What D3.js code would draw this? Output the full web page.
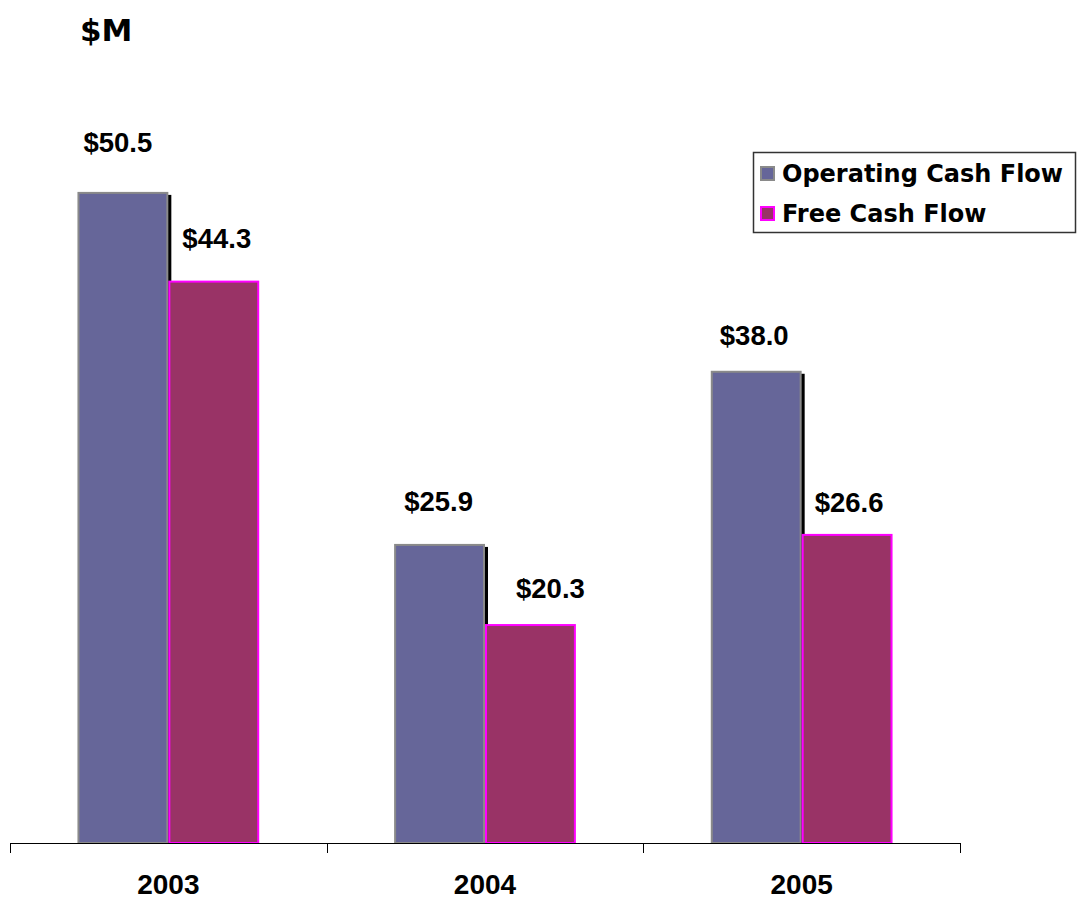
<!DOCTYPE html>
<head>
  <meta charset="utf-8">
  <script src="https://d3js.org/d3.v7.min.js"></script>
  <style>
    body { margin: 0; background: #fff; }
    .label { font-family: "Liberation Sans", Arial, sans-serif; font-weight: bold; font-size: 27.5px; fill: #000; }
    .year { font-family: "Liberation Sans", Arial, sans-serif; font-weight: bold; font-size: 28px; fill: #000; }
    .legend text { font-family: "DejaVu Sans", Verdana, sans-serif; font-weight: bold; font-size: 24px; fill: #000; }
    .unit { font-family: "DejaVu Sans", Verdana, sans-serif; font-weight: bold; font-size: 31px; }
  </style>
</head>
<body>
  <svg width="1077" height="899"></svg>
  <script>
    var years = ["2003", "2004", "2005"];
    var seriesNames = ["Operating Cash Flow", "Free Cash Flow"];
    var operating = [50.5, 25.9, 38.0];
    var free = [44.3, 20.3, 26.6];

    var fills = ["#666699", "#993366"];
    var strokes = ["#8a8a8a", "#ff00ff"];
    // hand-placed value labels in the original: [dx, gap above bar] per series / year
    var labelNudge = [
      [[-5, 40], [-1, 33], [-2, 26]],
      [[3, 33], [20, 26], [2, 22]]
    ];

    var svg = d3.select("svg");
    var left = 10, right = 960, baseY = 843;

    var x0 = d3.scaleBand()
      .domain(years)
      .range([left, right])
      .paddingInner(0.426)
      .paddingOuter(0.213);

    var x1 = d3.scaleBand()
      .domain(seriesNames)
      .range([0, x0.bandwidth()]);

    var y = d3.scaleLinear()
      .domain([5, 55])
      .range([baseY, 127.5]);

    var data = years.map(function (yr, i) {
      return { year: yr, i: i, values: [operating[i], free[i]] };
    });

    svg.append("text")
      .attr("class", "unit")
      .attr("x", 80)
      .attr("y", 41)
      .text("$M");

    var groups = svg.selectAll(".grp")
      .data(data)
      .enter().append("g")
      .attr("class", "grp")
      .attr("transform", function (d) { return "translate(" + x0(d.year) + ",0)"; });

    // shadow behind operating bar
    groups.append("rect")
      .attr("x", x1(seriesNames[0]) + 3)
      .attr("y", function (d) { return y(d.values[0]) + 3; })
      .attr("width", x1.bandwidth())
      .attr("height", function (d) { return baseY - y(d.values[0]) - 3; })
      .attr("fill", "#000");

    function items(d) {
      return d.values.map(function (v, k) { return { key: seriesNames[k], k: k, i: d.i, v: v }; });
    }

    groups.selectAll(".bar")
      .data(items)
      .enter().append("rect")
      .attr("class", "bar")
      .attr("x", function (d) { return x1(d.key) + 1; })
      .attr("y", function (d) { return y(d.v) + 1; })
      .attr("width", x1.bandwidth() - 2)
      .attr("height", function (d) { return baseY - y(d.v) - 1; })
      .attr("fill", function (d) { return fills[d.k]; })
      .attr("stroke", function (d) { return strokes[d.k]; })
      .attr("stroke-width", 2);

    groups.selectAll(".label")
      .data(items)
      .enter().append("text")
      .attr("class", "label")
      .attr("text-anchor", "middle")
      .attr("x", function (d) { return x1(d.key) + x1.bandwidth() / 2 + labelNudge[d.k][d.i][0]; })
      .attr("y", function (d) { return y(d.v) - labelNudge[d.k][d.i][1]; })
      .text(function (d) { return "$" + d3.format(".1f")(d.v); });

    // category axis
    var axis = svg.append("g");
    axis.append("line")
      .attr("x1", left).attr("x2", right)
      .attr("y1", baseY + 0.5).attr("y2", baseY + 0.5)
      .attr("stroke", "#000");
    var tickX = d3.range(years.length + 1).map(function (i) { return left + i * x0.step(); });
    axis.selectAll(".tick")
      .data(tickX)
      .enter().append("line")
      .attr("x1", function (d) { return Math.round(d) + 0.5; })
      .attr("x2", function (d) { return Math.round(d) + 0.5; })
      .attr("y1", baseY)
      .attr("y2", baseY + 10)
      .attr("stroke", "#000");
    axis.selectAll(".year")
      .data(years)
      .enter().append("text")
      .attr("class", "year")
      .attr("text-anchor", "middle")
      .attr("x", function (d) { return x0(d) + x0.bandwidth() / 2; })
      .attr("y", 894)
      .text(function (d) { return d; });

    // legend
    var legend = svg.append("g").attr("class", "legend");
    legend.append("rect")
      .attr("x", 753.5).attr("y", 152.5)
      .attr("width", 322).attr("height", 80)
      .attr("fill", "#fff")
      .attr("stroke", "#333")
      .attr("stroke-width", 1.5);
    var entries = legend.selectAll(".item")
      .data(seriesNames)
      .enter().append("g")
      .attr("transform", function (d, i) { return "translate(760," + (166 + i * 40) + ")"; });
    entries.append("rect")
      .attr("x", 1).attr("y", 1)
      .attr("width", 13).attr("height", 13)
      .attr("fill", function (d, i) { return fills[i]; })
      .attr("stroke", function (d, i) { return strokes[i]; })
      .attr("stroke-width", 2);
    entries.append("text")
      .attr("x", 22)
      .attr("y", 16)
      .text(function (d) { return d; });
  </script>
</body>
